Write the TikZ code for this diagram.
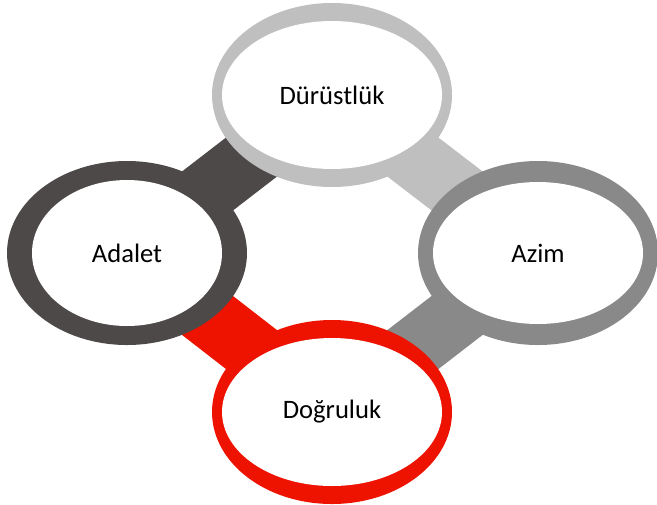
\documentclass[tikz,border=0pt]{standalone}
\usepackage{fontspec}
\setmainfont{Carlito}
\usepackage{tikz}
\usetikzlibrary{shapes.geometric,positioning,backgrounds}
\definecolor{RingDark}{RGB}{77,73,72}
\definecolor{RingLight}{RGB}{191,191,191}
\definecolor{RingMid}{RGB}{137,137,137}
\definecolor{RingRed}{RGB}{237,19,0}

\begin{document}
\begin{tikzpicture}[
  on grid,
  ring/.style={ellipse,inner sep=0pt,minimum width=120pt,minimum height=92pt,fill=#1},
  hole/.style={ellipse,inner sep=0pt,fill=white,font=\fontsize{13.3}{16}\selectfont},
  bar/.style={line width=31pt,#1}
]
  \useasboundingbox (0,0) rectangle (328.5pt,-252pt);
  % outer rings
  \node[ring=RingLight] (durustluk) at (166pt,-47.5pt) {};
  \node[ring=RingDark,below left=79pt and 102.5pt of durustluk]  (adalet)   {};
  \node[ring=RingMid,below right=79pt and 103pt of durustluk]    (azim)     {};
  \node[ring=RingRed,below=158.5pt of durustluk]                 (dogruluk) {};
  % white centres with the labels
  \node[hole,minimum width=110pt,minimum height=74pt] (t-durustluk) at (durustluk) {Dürüstlük};
  \node[hole,minimum width=95pt,minimum height=73pt]  (t-adalet)    at (adalet)    {Adalet};
  \node[hole,minimum width=105pt,minimum height=71pt] (t-azim)      at (azim)      {Azim};
  \node[hole,minimum width=110pt,minimum height=74pt] (t-dogruluk)  at (dogruluk)  {Doğruluk};
  % thick links behind the rings
  \begin{scope}[on background layer]
    \draw[bar=RingDark](adalet.center) -- (durustluk.center);
    \draw[bar=RingLight](durustluk.center) -- (azim.center);
    \draw[bar=RingMid](azim.center) -- (dogruluk.center);
    \draw[bar=RingRed](dogruluk.center) -- (adalet.center);
  \end{scope}
\end{tikzpicture}
\end{document}
